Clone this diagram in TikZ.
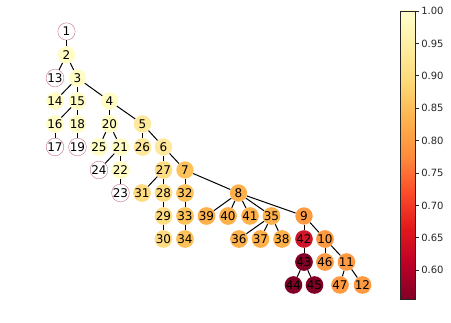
\documentclass[tikz,border=0pt]{standalone}
\usepackage{fontspec}
\setmainfont{DejaVu Sans}
\definecolor{h1}{HTML}{FFFFCC}
\definecolor{h2}{HTML}{FFEDA0}
\definecolor{h3}{HTML}{FED976}
\definecolor{h4}{HTML}{FEB24C}
\definecolor{h5}{HTML}{FD8D3C}
\definecolor{h6}{HTML}{FC4E2A}
\definecolor{h7}{HTML}{E31A1C}
\definecolor{h8}{HTML}{BD0026}
\definecolor{h9}{HTML}{800026}
\definecolor{cA}{HTML}{FFFDC4}
\definecolor{cB}{HTML}{FEE89C}
\definecolor{cC}{HTML}{FEDC82}
\definecolor{cD}{HTML}{FEC25A}
\definecolor{cE}{HTML}{FEB04B}
\definecolor{cF}{HTML}{FD9A42}
\definecolor{cG}{HTML}{D1152A}
\definecolor{cH}{HTML}{820026}
\definecolor{ring}{HTML}{C27090}
\pgfdeclareverticalshading{ylorrd}{100bp}{color(0bp)=(h9); color(25bp)=(h9); color(31.25bp)=(h8); color(37.5bp)=(h7); color(43.75bp)=(h6); color(50bp)=(h5); color(56.25bp)=(h4); color(62.5bp)=(h3); color(68.75bp)=(h2); color(75bp)=(h1); color(100bp)=(h1)}
\begin{document}
\begin{tikzpicture}[x=0.75pt,y=-0.75pt,
  nd/.style={circle, minimum size=13pt, inner sep=0pt, font=\fontsize{9}{10}\selectfont},
  wn/.style={nd, fill=white, draw=ring, line width=0.3pt},
  na/.style={nd, fill=cA}, nb/.style={nd, fill=cB}, nc/.style={nd, fill=cC},
  ndd/.style={nd, fill=cD}, ne/.style={nd, fill=cE}, nf/.style={nd, fill=cF},
  ng/.style={nd, fill=cG}, nh/.style={nd, fill=cH},
  edge/.style={line width=0.75pt, black},
  tick/.style={font=\fontsize{7.5}{8}\selectfont, anchor=west, inner sep=0pt, text=black!85}]
\useasboundingbox (0,0) rectangle (451,323);
% nodes
\node[wn] (n1) at (66.5,31.5) {1};
\node[na] (n2) at (66.5,55) {2};
\node[wn] (n13) at (55,78) {13};
\node[na] (n3) at (77.5,78) {3};
\node[na] (n14) at (55,101) {14};
\node[na] (n15) at (77.5,101) {15};
\node[na] (n4) at (109.5,101) {4};
\node[na] (n16) at (55,124) {16};
\node[na] (n18) at (77.5,124) {18};
\node[na] (n20) at (109.5,124) {20};
\node[nb] (n5) at (142.5,124) {5};
\node[wn] (n17) at (55,147) {17};
\node[wn] (n19) at (77.5,147) {19};
\node[na] (n25) at (99,147) {25};
\node[na] (n21) at (120.5,147) {21};
\node[nb] (n26) at (142.5,147) {26};
\node[nb] (n6) at (163.5,147) {6};
\node[wn] (n24) at (99,170) {24};
\node[na] (n22) at (120.5,170) {22};
\node[nc] (n27) at (163.5,170) {27};
\node[ndd] (n7) at (185,170) {7};
\node[wn] (n23) at (120.5,193) {23};
\node[nc] (n31) at (142,193) {31};
\node[nc] (n28) at (163.5,193) {28};
\node[ndd] (n32) at (185,193) {32};
\node[ne] (n8) at (238.5,193) {8};
\node[nc] (n29) at (163.5,216) {29};
\node[ndd] (n33) at (185,216) {33};
\node[ne] (n39) at (206.5,216) {39};
\node[ne] (n40) at (228,216) {40};
\node[ne] (n41) at (250,216) {41};
\node[ne] (n35) at (271.5,216) {35};
\node[nf] (n9) at (304,216) {9};
\node[nc] (n30) at (163.5,239) {30};
\node[ndd] (n34) at (185,239) {34};
\node[ne] (n36) at (239,239) {36};
\node[ne] (n37) at (260.5,239) {37};
\node[ne] (n38) at (282,239) {38};
\node[ng] (n42) at (304,239) {42};
\node[nf] (n10) at (325,239) {10};
\node[nh] (n43) at (304,262) {43};
\node[nf] (n46) at (325,262) {46};
\node[nf] (n11) at (346.5,262) {11};
\node[nh] (n44) at (293.5,285) {44};
\node[nh] (n45) at (314.5,285) {45};
\node[nf] (n47) at (340,285) {47};
\node[nf] (n12) at (362.5,285) {12};
% edges
\foreach \a/\b in {n1/n2,n2/n13,n2/n3,n3/n14,n3/n15,n3/n4,n15/n16,n15/n18,n16/n17,n18/n19,
  n4/n20,n4/n5,n20/n25,n20/n21,n21/n24,n21/n22,n22/n23,n5/n26,n5/n6,n6/n27,n6/n7,
  n27/n31,n27/n28,n28/n29,n29/n30,n7/n32,n32/n33,n33/n34,n7/n8,n8/n39,n8/n40,n8/n41,
  n8/n35,n8/n9,n35/n36,n35/n37,n35/n38,n9/n42,n9/n10,n42/n43,n43/n44,n43/n45,
  n10/n46,n10/n11,n11/n47,n11/n12}
  \draw[edge] (\a) -- (\b);
% colorbar
\shade[shading=ylorrd] (400.7,11) rectangle (415.7,299.3);
\draw[line width=0.6pt, black!85] (400.7,11) rectangle (415.7,299.3);
\foreach \v/\y in {1.00/11,0.95/43.4,0.90/75.8,0.85/108.2,0.80/140.6,0.75/173,0.70/205.4,0.65/237.8,0.60/270.2}{
  \draw[line width=0.6pt, black!85] (415.7,\y) -- (419.2,\y);
  \node[tick] (t\v) at (421,\y) {\v};
}
\end{tikzpicture}
\end{document}
